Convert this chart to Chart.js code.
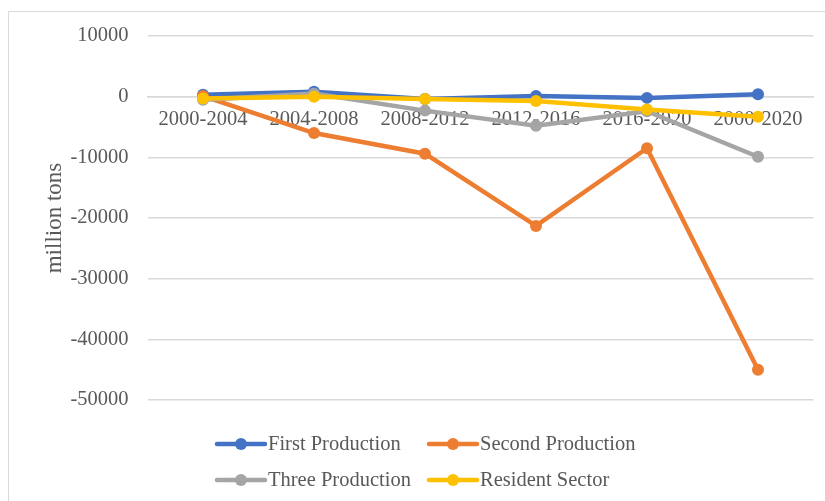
<!DOCTYPE html>
<html>
<head>
<meta charset="utf-8">
<script src="https://cdn.jsdelivr.net/npm/chart.js@4/dist/chart.umd.min.js"></script>
<style>
    html, body { margin: 0; padding: 0; background: #fff; overflow: hidden; }
    #wrap { position: relative; width: 825px; height: 501px; }
    #frame {
        position: absolute; left: 8px; top: 11px;
        width: 840px; height: 520px;
        border: 1px solid #d9d9d9; box-sizing: border-box;
    }
    canvas { position: absolute; left: 0; top: 0; }
</style>
</head>
<body>
<div id="wrap">
    <div id="frame"></div>
    <canvas id="myChart" width="825" height="501"></canvas>
</div>
<script>
const periods = ['2000-2004', '2004-2008', '2008-2012', '2012-2016', '2016-2020', '2000-2020'];

const firstProduction = [300, 800, -400, 100, -200, 400];
const secondProduction = [100, -6000, -9400, -21300, -8500, -45000];
const threeProduction = [-500, 500, -2300, -4800, -2400, -9900];
const residentSector = [-300, 0, -400, -700, -2100, -3300];

const yTicks = [10000, 0, -10000, -20000, -30000, -40000, -50000];

const FONT = '"Liberation Serif", "Times New Roman", serif';
const TEXT = '#595959';
const GRID = '#d9d9d9';

function series(label, values, color, order) {
    return {
        label: label,
        data: values,
        borderColor: color,
        backgroundColor: color,
        borderWidth: 4.5,
        pointRadius: 6,
        pointBorderWidth: 0,
        pointBackgroundColor: color,
        tension: 0,
        order: order,
    };
}

// legend laid out in two columns below the plot
const legendSpots = [
    { x: 217, y: 444 },
    { x: 429, y: 444 },
    { x: 217, y: 480 },
    { x: 429, y: 480 },
];

const twoColumnLegend = {
    id: 'twoColumnLegend',
    afterDraw(chart) {
        const ctx = chart.ctx;
        ctx.save();
        chart.data.datasets.forEach((ds, i) => {
            const spot = legendSpots[i];
            ctx.strokeStyle = ds.borderColor;
            ctx.lineWidth = 4.5;
            ctx.lineCap = 'round';
            ctx.beginPath();
            ctx.moveTo(spot.x, spot.y);
            ctx.lineTo(spot.x + 48, spot.y);
            ctx.stroke();
            ctx.fillStyle = ds.borderColor;
            ctx.beginPath();
            ctx.arc(spot.x + 24, spot.y, 6, 0, Math.PI * 2);
            ctx.fill();
            ctx.fillStyle = TEXT;
            ctx.font = '20.5px ' + FONT;
            ctx.textBaseline = 'middle';
            ctx.textAlign = 'left';
            ctx.fillText(ds.label, spot.x + 51, spot.y + 1);
        });
        ctx.restore();
    }
};

const data = {
    labels: periods,
    datasets: [
        series('First Production', firstProduction, '#4472C4', 3),
        series('Second Production', secondProduction, '#ED7D31', 2),
        series('Three Production', threeProduction, '#A5A5A5', 1),
        series('Resident Sector', residentSector, '#FFC000', 0),
    ]
};

const options = {
    responsive: false,
    animation: false,
    layout: { padding: { left: 8, right: 11.5, top: 36, bottom: 101 } },
    plugins: {
        legend: { display: false },
        tooltip: { enabled: false },
    },
    scales: {
        x: {
            position: { y: 0 },
            offset: true,
            grid: { display: false, drawTicks: false },
            border: { display: true, color: GRID, width: 1.5 },
            ticks: {
                color: TEXT,
                font: { family: FONT, size: 20.5 },
                padding: 11,
                maxRotation: 0,
                autoSkip: false,
            },
        },
        y: {
            min: -50000,
            max: 10000,
            afterFit(scale) { scale.width = 139.5; },
            afterBuildTicks(scale) { scale.ticks = yTicks.map(v => ({ value: v })); },
            grid: { color: GRID, lineWidth: 1.5, drawTicks: false },
            border: { display: false },
            ticks: {
                color: TEXT,
                font: { family: FONT, size: 20.5 },
                padding: 19,
                callback: (v) => String(v),
            },
            title: {
                display: true,
                text: 'million tons',
                color: TEXT,
                font: { family: FONT, size: 23 },
                padding: { top: 33, bottom: 0 },
            },
        },
    },
};

const chart = new Chart(document.getElementById('myChart'), {
    type: 'line',
    data: data,
    options: options,
    plugins: [twoColumnLegend],
});
</script>
</body>
</html>
